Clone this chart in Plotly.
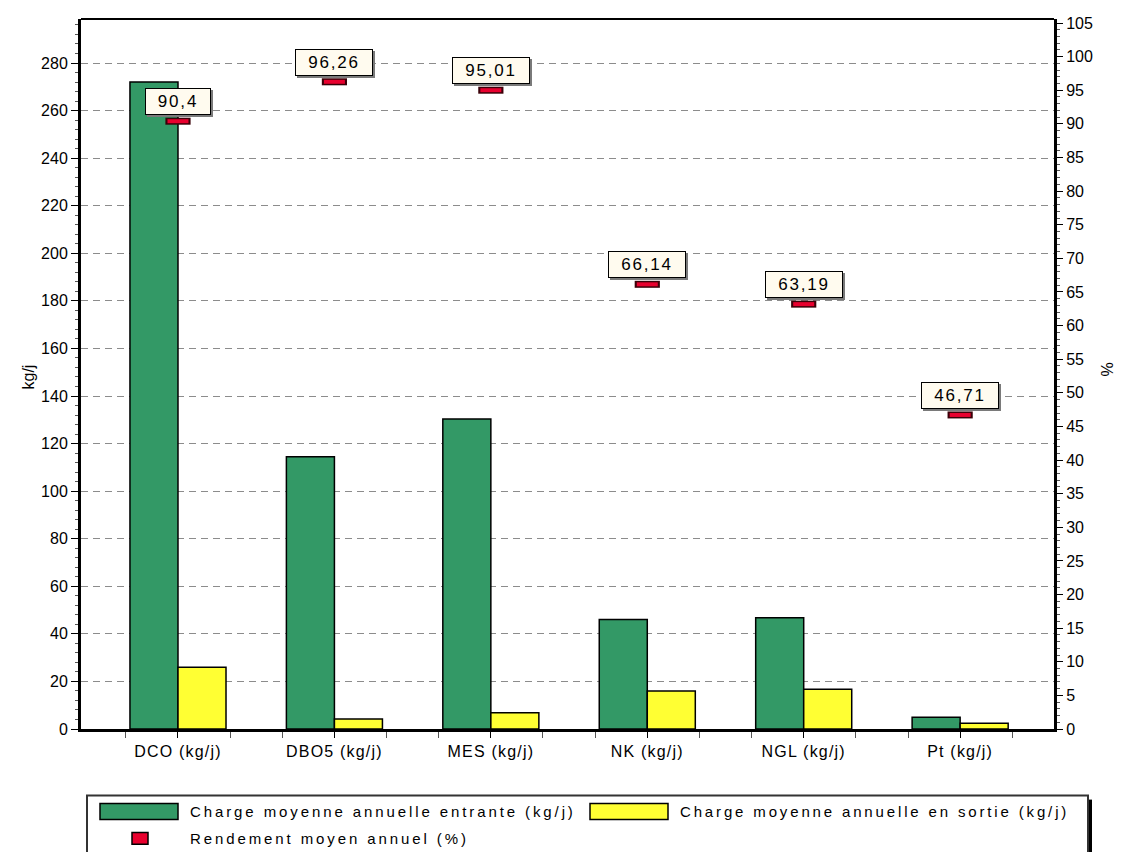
import plotly.graph_objects as go

categories = ["DCO (kg/j)", "DBO5 (kg/j)", "MES (kg/j)", "NK (kg/j)", "NGL (kg/j)", "Pt (kg/j)"]
charge_entrante = [272, 114.5, 130.3, 46, 46.8, 4.9]
charge_sortie = [26, 4.2, 6.8, 16, 16.7, 2.4]
rendement = [90.4, 96.26, 95.01, 66.14, 63.19, 46.71]

name_in = "Charge moyenne annuelle entrante (kg/j)"
name_out = "Charge moyenne annuelle en sortie (kg/j)"
name_rd = "Rendement moyen annuel (%)"

GREEN = "#339966"
YELLOW = "#FFFF33"
RED = "#E8002E"
FONT = "Liberation Sans, Arial, sans-serif"

# page offset of the figure (body margin)
OFF = 8
FIG_W, FIG_H = 1129 - OFF, 852 - OFF
# plot area in page pixels
L, R, T, B = 81, 1054, 15, 729
W, H = R - L, B - T


def px(x):
    return (x - L) / W


def py(y):
    return (B - y) / H


def spaced(s, sp):
    return f'<span style="letter-spacing:{sp}px">{s}</span>'


xs = list(range(len(categories)))

fig = go.Figure()
fig.add_trace(go.Bar(x=xs, y=charge_entrante, name=name_in, marker=dict(color=GREEN, line=dict(color="black", width=1.5)),
                     showlegend=False))
fig.add_trace(go.Bar(x=xs, y=charge_sortie, name=name_out, marker=dict(color=YELLOW, line=dict(color="black", width=1.5)),
                     showlegend=False))
fig.add_trace(go.Scatter(x=xs, y=rendement, yaxis="y2", mode="markers", showlegend=False, hoverinfo="skip",
                         marker=dict(symbol="line-ew", size=18, line=dict(color="#3a0008", width=7))))
fig.add_trace(go.Scatter(x=xs, y=rendement, yaxis="y2", mode="markers", name=name_rd, showlegend=False,
                         marker=dict(symbol="line-ew", size=15, line=dict(color=RED, width=4))))

annotations = []
for i, v in enumerate(rendement):
    txt = f"{v:g}".replace(".", ",")
    w = 12 * len(txt) + 10
    # shadow
    annotations.append(dict(x=i, y=v, xref="x", yref="y2", text=spaced(txt, 1.8), showarrow=False,
                            yanchor="bottom", yshift=4, xshift=2, width=w, borderpad=3,
                            bgcolor="#7a7a7a", bordercolor="#7a7a7a", borderwidth=1,
                            font=dict(family=FONT, size=17, color="#7a7a7a")))
    annotations.append(dict(x=i, y=v, xref="x", yref="y2", text=spaced(txt, 1.8), showarrow=False,
                            yanchor="bottom", yshift=6, width=w, borderpad=3,
                            bgcolor="#FFFBEF", bordercolor="black", borderwidth=1,
                            font=dict(family=FONT, size=17, color="black")))

# axis titles
annotations.append(dict(x=px(18), y=py(375), xref="paper", yref="paper", text="kg/j", textangle=-90,
                        showarrow=False, font=dict(family=FONT, size=16, color="black")))
annotations.append(dict(x=px(1118), y=py(368), xref="paper", yref="paper", text="%", textangle=-90,
                        showarrow=False, font=dict(family=FONT, size=16, color="black")))

# legend texts
leg_font = dict(family=FONT, size=15, color="black")
annotations.append(dict(x=px(188), y=py(812), xref="paper", yref="paper", text=spaced(name_in, 2.9),
                        showarrow=False, xanchor="left", yanchor="middle", font=leg_font))
annotations.append(dict(x=px(678), y=py(812), xref="paper", yref="paper", text=spaced(name_out, 2.85),
                        showarrow=False, xanchor="left", yanchor="middle", font=leg_font))
annotations.append(dict(x=px(188), y=py(839), xref="paper", yref="paper", text=spaced(name_rd, 2.9),
                        showarrow=False, xanchor="left", yanchor="middle", font=leg_font))

shapes = [
    # top border
    dict(type="line", xref="paper", yref="paper", x0=0, x1=1, y0=1, y1=1, line=dict(color="black", width=2)),
    # legend shadow + box
    dict(type="rect", xref="paper", yref="paper", x0=px(1087), x1=px(1092), y0=py(800), y1=py(870),
         fillcolor="black", line=dict(width=0)),
    dict(type="rect", xref="paper", yref="paper", x0=px(87), x1=px(1088), y0=py(796), y1=py(870),
         fillcolor="white", line=dict(color="#333333", width=2)),
    dict(type="rect", xref="paper", yref="paper", x0=px(100), x1=px(178), y0=py(804), y1=py(820),
         fillcolor=GREEN, line=dict(color="black", width=1.5)),
    dict(type="rect", xref="paper", yref="paper", x0=px(590), x1=px(668), y0=py(804), y1=py(820),
         fillcolor=YELLOW, line=dict(color="black", width=1.5)),
    dict(type="rect", xref="paper", yref="paper", x0=px(132), x1=px(148), y0=py(833), y1=py(845),
         fillcolor=RED, line=dict(color="black", width=1.5)),
]

tick_font = dict(family=FONT, size=16, color="black")

fig.update_layout(
    width=FIG_W, height=FIG_H,
    margin=dict(l=L - OFF, r=FIG_W + OFF - R, t=T - OFF, b=FIG_H + OFF - B),
    paper_bgcolor="white", plot_bgcolor="white",
    barmode="group", bargap=0.386, bargroupgap=0,
    xaxis=dict(range=[-0.62, 5.6], tickmode="array", tickvals=xs,
               ticktext=[spaced(c, 1.2) for c in categories],
               showline=True, linecolor="black", linewidth=3, showgrid=False, zeroline=False,
               ticks="outside", ticklen=6, tickcolor="black", tickwidth=1,
               minor=dict(tickmode="linear", tick0=0, dtick=1 / 3, ticks="outside", ticklen=6,
                          tickcolor="#555555", tickwidth=1),
               tickfont=tick_font),
    yaxis=dict(range=[0, 298.5], tickmode="linear", tick0=0, dtick=20,
               showline=True, linecolor="black", linewidth=3, zeroline=False,
               showgrid=True, gridcolor="#8c8c8c", gridwidth=1, griddash="7px,5px",
               ticks="outside", ticklen=7, tickcolor="black", tickwidth=1,
               minor=dict(tickmode="linear", tick0=0, dtick=4, ticks="outside", ticklen=3,
                          tickcolor="#555555", showgrid=False),
               tickfont=tick_font),
    yaxis2=dict(range=[0, 105.6], overlaying="y", side="right", tickmode="linear", tick0=0, dtick=5,
                showline=True, linecolor="black", linewidth=3, zeroline=False, showgrid=False,
                ticks="outside", ticklen=6, tickcolor="black", tickwidth=1,
                minor=dict(tickmode="linear", tick0=0, dtick=1, ticks="outside", ticklen=3,
                           tickcolor="#555555", showgrid=False),
                tickfont=tick_font),
    annotations=annotations,
    shapes=shapes,
    showlegend=False,
)

fig.write_html("out.html")
